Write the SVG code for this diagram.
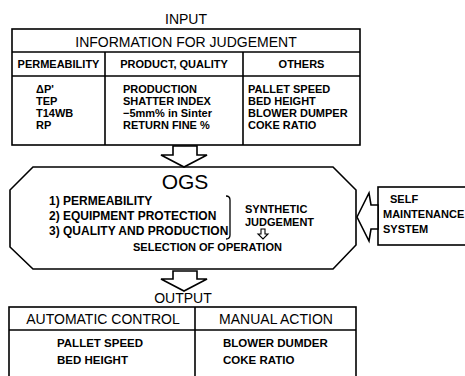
<svg xmlns="http://www.w3.org/2000/svg" width="465" height="376" viewBox="0 0 465 376">
<style>
.ln{fill:none;stroke:#000;stroke-width:1.6;stroke-linejoin:miter}
.ar{fill:#fff;stroke:#000;stroke-width:1.6;stroke-linejoin:miter}
.t{font-family:"Liberation Sans",Arial,sans-serif;fill:#000}
.h{font-size:14px}
.b{font-size:11px;font-weight:bold}
.o{font-size:11.5px;font-weight:bold}
.m{text-anchor:middle}
</style>
<rect width="465" height="376" fill="#fff"/>

<g id="input-table">
  <text class="t h m" x="186" y="24">INPUT</text>
  <rect class="ln" x="12" y="29" width="348" height="116"/>
  <line class="ln" x1="12" y1="52" x2="360" y2="52"/>
  <line class="ln" x1="12" y1="76" x2="360" y2="76"/>
  <line class="ln" x1="105" y1="52" x2="105" y2="145"/>
  <line class="ln" x1="243" y1="52" x2="243" y2="145"/>
  <text class="t h m" x="186" y="47">INFORMATION FOR JUDGEMENT</text>
  <text class="t b m" x="58.5" y="68">PERMEABILITY</text>
  <text class="t b m" x="174" y="68">PRODUCT, QUALITY</text>
  <text class="t b m" x="301.5" y="68">OTHERS</text>
  <text class="t b" x="36" y="93">ΔP'</text>
  <text class="t b" x="36" y="105">TEP</text>
  <text class="t b" x="36" y="117">T14WB</text>
  <text class="t b" x="36" y="129">RP</text>
  <text class="t b" x="123" y="93">PRODUCTION</text>
  <text class="t b" x="123" y="105">SHATTER INDEX</text>
  <text class="t b" x="123" y="117">−5mm% in Sinter</text>
  <text class="t b" x="123" y="129">RETURN FINE %</text>
  <text class="t b" x="248" y="93">PALLET SPEED</text>
  <text class="t b" x="248" y="105">BED HEIGHT</text>
  <text class="t b" x="248" y="117">BLOWER DUMPER</text>
  <text class="t b" x="248" y="129">COKE RATIO</text>
</g>

<g id="ogs">
  <polygon class="ln" points="33,167 333,167 356,190 356,245 333,269 33,269 10,247 10,190"/>
  <text class="t m" x="185" y="189" style="font-size:21px">OGS</text>
  <text class="t b" x="49" y="205" style="font-size:12px">1) PERMEABILITY</text>
  <text class="t b" x="49" y="220" style="font-size:12px">2) EQUIPMENT PROTECTION</text>
  <text class="t b" x="49" y="235" style="font-size:12px">3) QUALITY AND PRODUCTION</text>
  <path class="ln" d="M226,196 q4,0 4,4 v35 q0,4 -4,4" style="stroke-width:1.3"/>
  <text class="t b" x="245" y="213">SYNTHETIC</text>
  <text class="t b" x="245" y="226">JUDGEMENT</text>
  <path class="ar" d="M261,229 h4 v5 h3 l-5,5 l-5,-5 h3 z" style="stroke-width:1.1"/>
  <text class="t b" x="133" y="251">SELECTION OF OPERATION</text>
</g>

<g id="self-maintenance">
  <rect class="ln" x="378" y="187" width="100" height="58"/>
  <text class="t b" x="390" y="203">SELF</text>
  <text class="t b" x="383" y="218">MAINTENANCE</text>
  <text class="t b" x="383" y="233">SYSTEM</text>
</g>

<g id="output-table">
  <text class="t h m" x="183" y="303">OUTPUT</text>
  <rect class="ln" x="9" y="307" width="347" height="80"/>
  <line class="ln" x1="9" y1="330" x2="356" y2="330"/>
  <line class="ln" x1="195" y1="307" x2="195" y2="380"/>
  <text class="t h m" x="103" y="324">AUTOMATIC CONTROL</text>
  <text class="t h m" x="276" y="324">MANUAL ACTION</text>
  <text class="t o" x="57" y="347">PALLET SPEED</text>
  <text class="t o" x="57" y="364">BED HEIGHT</text>
  <text class="t o" x="223" y="347">BLOWER DUMDER</text>
  <text class="t o" x="223" y="364">COKE RATIO</text>
</g>

<g id="connectors">
  <path class="ar" d="M173,146 H197 V155 H207 L184,167 L161,155 H173 Z"/>
  <path class="ar" d="M173,271 H197 V279 H207 L184,291 L161,279 H173 Z"/>
  <path class="ar" d="M357,217 L369,193 L371,205 H378 V229 H371 L369,241 Z"/>
</g>
</svg>
